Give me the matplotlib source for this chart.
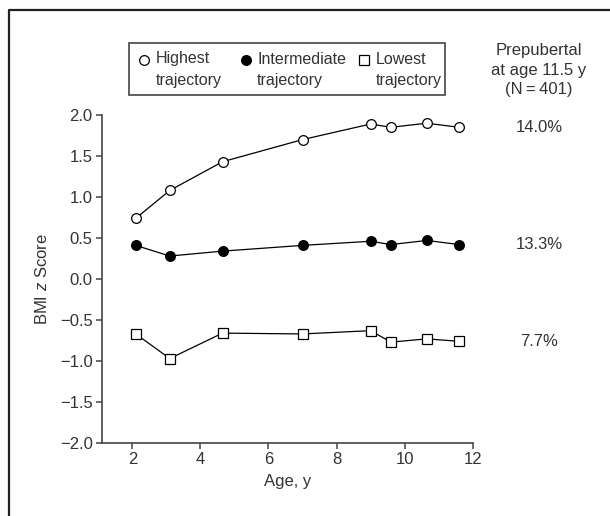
import matplotlib
matplotlib.use('Agg')
import matplotlib.pyplot as plt
from matplotlib.patches import Rectangle

plt.rcParams['font.family'] = ['Liberation Sans Narrow', 'Liberation Sans', 'DejaVu Sans']
plt.rcParams['mathtext.fontset'] = 'custom'
plt.rcParams['mathtext.rm'] = 'Liberation Sans'
plt.rcParams['mathtext.it'] = 'Liberation Sans:italic'

# data
age = [2.1, 3.1, 4.65, 7.0, 9.0, 9.6, 10.65, 11.6]
highest = [0.74, 1.08, 1.43, 1.70, 1.89, 1.85, 1.90, 1.85]
intermediate = [0.41, 0.28, 0.34, 0.41, 0.46, 0.42, 0.47, 0.42]
lowest = [-0.67, -0.97, -0.66, -0.67, -0.63, -0.77, -0.73, -0.76]
series_labels = ['Highest\ntrajectory', 'Intermediate\ntrajectory', 'Lowest\ntrajectory']
pct_labels = ['14.0%', '13.3%', '7.7%']
yticks = [-2.0, -1.5, -1.0, -0.5, 0.0, 0.5, 1.0, 1.5, 2.0]
xticks = [2, 4, 6, 8, 10, 12]

W, H = 610, 516
ink = '#333333'
fs = 12

fig = plt.figure(figsize=(W / 100, H / 100), dpi=100)
ax = fig.add_axes([101.7 / W, 1 - 443 / H, (472.7 - 101.7) / W, (443 - 115) / H])

styles = [
    dict(marker='o', mfc='white', mec='black', ms=7),
    dict(marker='o', mfc='black', mec='black', ms=7),
    dict(marker='s', mfc='white', mec='black', ms=6.5),
]
for vals, st in zip([highest, intermediate, lowest], styles):
    ax.plot(age, vals, color='black', lw=0.9, mew=0.9, zorder=3, **st)

ax.set_xlim(1.1, 12)
ax.set_ylim(-2.0, 2.0)
ax.set_xticks(xticks)
ax.set_yticks(yticks)
ax.set_yticklabels([f'{v:.1f}'.replace('-', '\u2212') for v in yticks])
for s in ['top', 'right']:
    ax.spines[s].set_visible(False)
for s in ['left', 'bottom']:
    ax.spines[s].set_color('#444444')
    ax.spines[s].set_linewidth(1.2)
ax.tick_params(colors='#444444', labelcolor=ink, labelsize=fs, length=4, width=1.1, pad=2.5)
ax.set_xlabel('Age, y', fontsize=fs, color=ink, labelpad=5)
ax.set_ylabel('BMI $z$ Score', fontsize=fs, color=ink, labelpad=7)

# overlay in pixel coordinates for frame, legend and annotations
ov = fig.add_axes([0, 0, 1, 1], zorder=-1)
ov.set_xlim(0, W)
ov.set_ylim(H, 0)
ov.axis('off')
ov.plot([9, 9, W], [H, 10, 10], color='#222222', lw=1.6)

lg = fig.add_axes([0, 0, 1, 1])
lg.set_xlim(0, W)
lg.set_ylim(H, 0)
lg.axis('off')
lg.add_patch(Rectangle((129, 42.7), 445 - 129, 95 - 42.7, fill=False, ec='#444444', lw=1.2))
leg_x = [144.3, 245.7, 364]
for xm, st, lab in zip(leg_x, styles, series_labels):
    lg.plot([xm], [59.5], color='black', mew=0.9, **st)
    lg.text(xm + 11.5, 69.5, lab, fontsize=11.5, color=ink, ha='left', va='center', linespacing=1.5)

lg.text(539, 70, 'Prepubertal\nat age 11.5 y\n(N\u2009=\u2009401)',
        fontsize=fs, color=ink, ha='center', va='center', linespacing=1.4)
for lab, yv in zip(pct_labels, [highest[-1], intermediate[-1], lowest[-1]]):
    ypix = ax.transData.transform((12, yv))[1]
    lg.text(539, H - ypix, lab, fontsize=fs, color=ink, ha='center', va='center')

fig.savefig('out.png', dpi=100)
